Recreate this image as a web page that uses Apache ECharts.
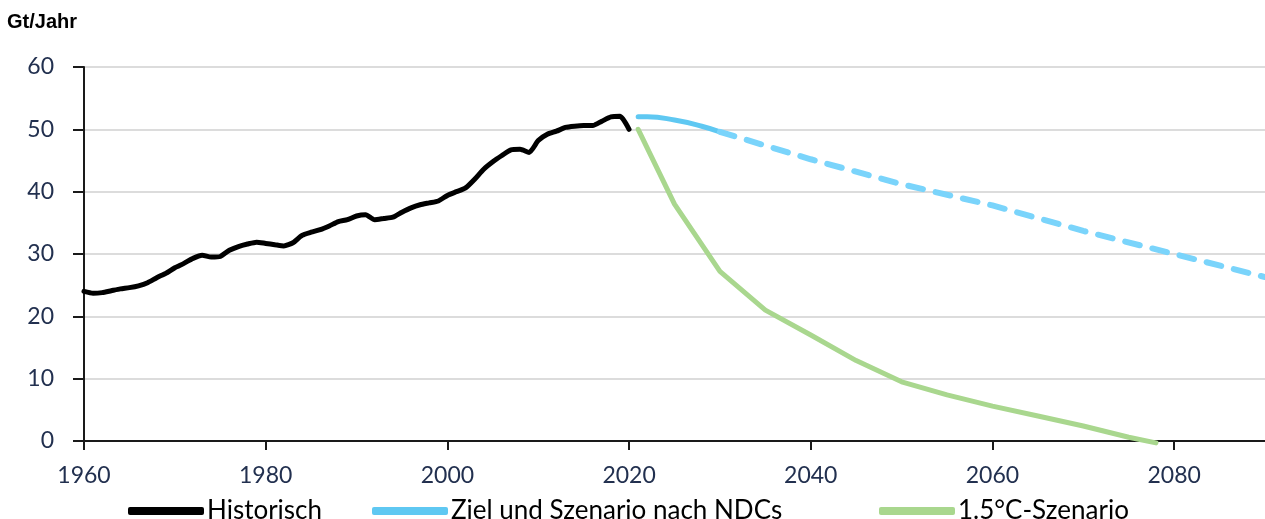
<!DOCTYPE html>
<html>
<head>
<meta charset="utf-8">
<script src="https://cdn.jsdelivr.net/npm/echarts@6/dist/echarts.min.js"></script>
<style>html,body{margin:0;padding:0;background:#fff}#c{width:1265px;height:519px}</style>
</head>
<body>
<div id="c"></div>
<script>
const histYears = [1960,1961,1962,1963,1964,1965,1966,1967,1968,1969,1970,1971,1972,1973,1974,1975,1976,1977,1978,1979,1980,1981,1982,1983,1984,1985,1986,1987,1988,1989,1990,1991,1992,1993,1994,1995,1996,1997,1998,1999,2000,2001,2002,2003,2004,2005,2006,2007,2008,2009,2010,2011,2012,2013,2014,2015,2016,2017,2018,2019,2020];
const histValues = [24.0,23.7,23.8,24.1,24.4,24.6,24.9,25.4,26.2,26.9,27.8,28.5,29.3,29.8,29.5,29.6,30.6,31.2,31.6,31.9,31.7,31.5,31.3,31.8,33.0,33.5,33.9,34.5,35.2,35.5,36.1,36.3,35.5,35.7,35.9,36.7,37.4,37.9,38.2,38.5,39.4,40.0,40.6,42.0,43.6,44.8,45.8,46.7,46.8,46.3,48.2,49.2,49.7,50.3,50.5,50.6,50.6,51.3,52.0,52.1,50.0];
const ndcYearsSolid = [2021,2022,2025,2028,2030];
const ndcValuesSolid = [52.0,52.0,51.5,50.5,49.6];
const ndcYearsDashed = [2030,2040,2050,2060,2070,2080,2090];
const ndcValuesDashed = [49.6,45.2,41.2,37.8,33.7,30.0,26.3];
const c15Years = [2021,2025,2030,2035,2040,2045,2050,2055,2060,2065,2070,2075,2078];
const c15Values = [50.0,38.0,27.2,21.0,17.0,12.9,9.5,7.4,5.6,4.0,2.4,0.6,-0.3];
const seriesNames = ['Historisch','Ziel und Szenario nach NDCs','1.5°C-Szenario'];
const yTicks = [0,10,20,30,40,50,60];
const xTicks = [1960,1980,2000,2020,2040,2060,2080];

const zip = (xs, ys) => xs.map((x, i) => [x, ys[i]]);
const chart = echarts.init(document.getElementById('c'), null, {renderer: 'canvas'});
const labelColor = '#22304f';
function mkLegend(name, left) {
  return {
    data: [{name: name, icon: 'roundRect'}],
    left: left, top: 498, padding: 0, itemWidth: 76, itemHeight: 8, itemGap: 0,
    textStyle: {fontFamily: 'Lato', fontSize: 26, lineHeight: 26, color: '#000', padding: [0, 0, 0, -2]},
    selectedMode: false
  };
}
chart.setOption({
  animation: false,
  title: {
    text: 'Gt/Jahr', left: 7, top: 12, padding: 0,
    textStyle: {fontFamily: 'Liberation Sans', fontWeight: 'bold', fontSize: 20, color: '#000'}
  },
  legend: [mkLegend(seriesNames[0], 128), mkLegend(seriesNames[1], 372), mkLegend(seriesNames[2], 879)],
  grid: {left: 84, right: 0, top: 67, bottom: 78, containLabel: false},
  xAxis: {
    type: 'value', min: 1960, max: 2090, interval: 20,
    axisLine: {show: true, onZero: false, lineStyle: {color: '#1a1a1a', width: 2}},
    axisTick: {show: true, length: 9, lineStyle: {color: '#1a1a1a', width: 2}},
    axisLabel: {
      margin: 23, fontFamily: 'Lato', fontSize: 23, color: labelColor,
      showMaxLabel: false,
      formatter: v => xTicks.includes(v) ? String(v) : ''
    },
    splitLine: {show: false}
  },
  yAxis: {
    type: 'value', min: 0, max: 60, interval: 10,
    axisLine: {show: true, lineStyle: {color: '#1a1a1a', width: 2}},
    axisTick: {show: true, length: 11, lineStyle: {color: '#1a1a1a', width: 2}},
    axisLabel: {
      margin: 30, fontFamily: 'Lato', fontSize: 23, color: labelColor,
      formatter: v => yTicks.includes(v) ? String(v) : ''
    },
    splitLine: {show: true, lineStyle: {color: '#dcdcdc', width: 2}}
  },
  series: [
    {
      name: seriesNames[2], type: 'line', data: zip(c15Years, c15Values),
      showSymbol: false, clip: false, smooth: false,
      lineStyle: {color: '#a9d78e', width: 5, cap: 'round', join: 'round'},
      itemStyle: {color: '#a9d78e'}, z: 2
    },
    {
      name: seriesNames[1], type: 'line', data: zip(ndcYearsSolid, ndcValuesSolid),
      showSymbol: false, smooth: true,
      lineStyle: {color: '#5fc8f2', width: 5, cap: 'round', join: 'round'},
      itemStyle: {color: '#5fc8f2'}, z: 3
    },
    {
      name: seriesNames[1] + ' (gestrichelt)', type: 'line', data: zip(ndcYearsDashed, ndcValuesDashed),
      showSymbol: false, smooth: false,
      lineStyle: {color: '#7ad4fb', width: 6, type: [15, 13], cap: 'round', join: 'round'},
      itemStyle: {color: '#7ad4fb'}, z: 3
    },
    {
      name: seriesNames[0], type: 'line', data: zip(histYears, histValues),
      showSymbol: false, smooth: 0.2,
      lineStyle: {color: '#000', width: 5, cap: 'round', join: 'round'},
      itemStyle: {color: '#000'}, z: 4
    }
  ]
});
</script>
</body>
</html>
